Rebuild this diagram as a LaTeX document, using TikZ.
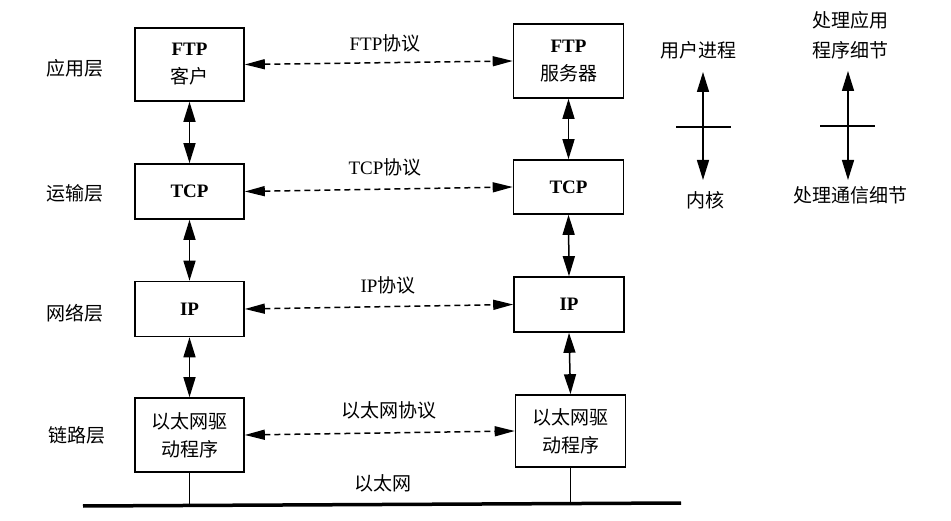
\documentclass[tikz,border=0pt]{standalone}
\usepackage{fontspec}
\setmainfont{Liberation Serif}
\newfontfamily\cjk{Noto Sans CJK SC}
\usetikzlibrary{arrows.meta}
\begin{document}
\begin{tikzpicture}[x=1pt,y=-1pt,
  box/.style={draw,line width=1.6pt,minimum width=109pt,inner sep=0pt,align=center,font=\fontsize{19}{28}\selectfont},
  lbl/.style={inner sep=0pt,align=center,font=\fontsize{19}{30}\selectfont},
  dbl/.style={line width=1.5pt,{Triangle[length=20pt,width=12pt]}-{Triangle[length=20pt,width=12pt]}},
  dsh/.style={line width=1.5pt,{Triangle[length=20pt,width=10pt]}-{Triangle[length=20pt,width=10pt]},dash pattern=on 6pt off 4pt},
  plain/.style={line width=1.3pt}]
\useasboundingbox (0,0) rectangle (951,521);
% left column
\node[box,minimum height=73pt] (lftp) at (189.5,64.5) {\textbf{FTP}\\{\cjk 客户}};
\node[box,minimum height=55pt] (ltcp) at (189.5,191.5) {\textbf{TCP}};
\node[box,minimum height=55pt] (lip) at (189.5,309) {\textbf{IP}};
\node[box,minimum height=74pt] (leth) at (189.5,435) {\cjk 以太网驱\\ \cjk 动程序};
% right column
\node[box,minimum height=74pt,minimum width=110pt] (rftp) at (568.5,61) {\textbf{FTP}\\{\cjk 服务器}};
\node[box,minimum height=54pt,minimum width=110pt] (rtcp) at (568.5,187) {\textbf{TCP}};
\node[box,minimum height=55pt,minimum width=110pt] (rip) at (569,304.5) {\textbf{IP}};
\node[box,minimum height=72pt,minimum width=110pt] (reth) at (570.5,431) {\cjk 以太网驱\\ \cjk 动程序};
% layer labels
\node[lbl] (l1) at (75,68) {\cjk 应用层};
\node[lbl] (l2) at (75,193) {\cjk 运输层};
\node[lbl] (l3) at (75,313) {\cjk 网络层};
\node[lbl] (l4) at (77,435) {\cjk 链路层};
% protocol labels
\node[lbl] (p1) at (385,43) {FTP{\cjk 协议}};
\node[lbl] (p2) at (385,167) {TCP{\cjk 协议}};
\node[lbl] (p3) at (388,285) {IP{\cjk 协议}};
\node[lbl] (p4) at (389,410) {\cjk 以太网协议};
\node[lbl] (p5) at (383,483) {\cjk 以太网};
% vertical arrows
\draw[dbl] (lftp.south) -- (ltcp.north);
\draw[dbl] (ltcp.south) -- (lip.north);
\draw[dbl] (lip.south) -- (leth.north);
\draw[dbl] (rftp.south) -- (rtcp.north);
\draw[dbl] (rtcp.south) -- (rip.north);
\draw[dbl] (rip.south) -- (reth.north);
% dashed peer arrows
\draw[dsh] (lftp.east) -- (rftp.west);
\draw[dsh] (ltcp.east) -- (rtcp.west);
\draw[dsh] (lip.east) -- (rip.west);
\draw[dsh] (leth.east) -- (reth.west);
% bus
\coordinate (busL) at (83,506);
\coordinate (busR) at (681,503);
\draw[line width=3.5pt] (busL) -- (busR);
\draw[plain] (leth.south) -- ++(0,34);
\draw[plain] (reth.south) -- ++(0,36);
% legend
\node[lbl] (u1) at (698,50) {\cjk 用户进程};
\node[lbl] (k1) at (705,200) {\cjk 内核};
\coordinate (a1t) at (703,72);
\coordinate (a1b) at (703,180);
\coordinate (c1l) at (676,127);
\coordinate (c1r) at (731,127);
\draw[dbl] (a1t) -- (a1b);
\draw[plain] (c1l) -- (c1r);
\node[lbl] (u2) at (850,35) {\cjk 处理应用\\ \cjk 程序细节};
\node[lbl] (k2) at (850,195) {\cjk 处理通信细节};
\coordinate (a2t) at (848,71);
\coordinate (a2b) at (848,180);
\coordinate (c2l) at (820,126);
\coordinate (c2r) at (875,126);
\draw[dbl] (a2t) -- (a2b);
\draw[plain] (c2l) -- (c2r);
\end{tikzpicture}
\end{document}
